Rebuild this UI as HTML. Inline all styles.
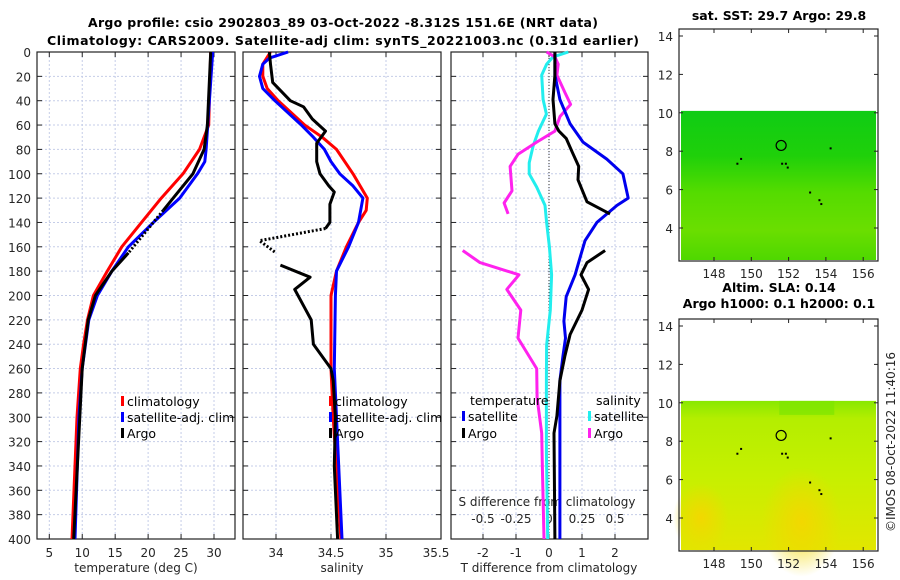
<!DOCTYPE html>
<html><head><meta charset="utf-8">
<style>
html,body{margin:0;padding:0;background:#fff;}
svg{display:block;font-family:"DejaVu Sans","Liberation Sans",sans-serif;}
.tk{font-size:12px;fill:#262626;}
.ttl{font-size:12.5px;font-weight:bold;fill:#000;}
.lg{font-size:12.5px;fill:#000;}
</style></head>
<body>
<svg id="chart" width="900" height="580" viewBox="0 0 900 580" xmlns="http://www.w3.org/2000/svg">
<defs>
<linearGradient id="sstg" x1="0" y1="0" x2="0" y2="1">
<stop offset="0" stop-color="#0fcc14"/><stop offset="0.3" stop-color="#1fd00a"/><stop offset="0.55" stop-color="#55dc00"/><stop offset="0.8" stop-color="#6ade00"/><stop offset="1" stop-color="#4fd800"/>
</linearGradient>
<linearGradient id="slag" x1="0" y1="0" x2="0" y2="1">
<stop offset="0" stop-color="#88e800"/><stop offset="0.12" stop-color="#b4ee00"/><stop offset="0.5" stop-color="#c6f000"/><stop offset="1" stop-color="#e2e600"/>
</linearGradient>
<radialGradient id="slay1"><stop offset="0" stop-color="#f2d800"/><stop offset="1" stop-color="#f2d800" stop-opacity="0"/></radialGradient>
</defs>
<g id="layer"></g>
</svg>
<script>
// ---- data ----
const depthTicks=[0,20,40,60,80,100,120,140,160,180,200,220,240,260,280,300,320,340,360,380,400];
const tempTicks=[5,10,15,20,25,30];
const salTicks=[34,34.5,35,35.5];
const salTickLabels=['34','34.5','35','35.5'];
const tdTicks=[-2,-1,0,1,2];
const sdTickLabels=['-0.5','-0.25','0','0.25','0.5'];
const sdTicks=[-0.5,-0.25,0,0.25,0.5];

const climTempDepth=[0,60,80,100,120,140,160,180,200,220,240,260,300,340,400];
const climTemp=[29.5,29.2,27.8,25.3,22,19,16,13.8,11.7,10.8,10.2,9.7,9.2,8.9,8.45];
const satTempDepth=[0,80,90,100,120,140,160,180,200,220,260,300,400];
const satTemp=[29.8,28.8,28.6,27.5,24.8,20.8,17,14.5,12.3,11,10,9.5,8.9];
const argoTempDepth=[0,60,80,100,120,130,165,180,200,220,260,400];
const argoTemp=[29.5,29,28.5,26.8,23.8,22.3,17,14.5,12,10.9,10,8.7];
const argoTempDotted=[130,165];

const climSalDepth=[0,10,20,30,40,60,70,80,100,120,130,140,160,180,200,260,300,400];
const climSal=[33.95,33.88,33.88,33.92,34.02,34.26,34.42,34.55,34.70,34.83,34.82,34.75,34.64,34.55,34.5,34.5,34.52,34.59];
const satSalDepth=[0,5,10,20,30,40,60,70,80,90,100,110,120,140,160,180,200,260,300,400];
const satSal=[34.11,33.94,33.88,33.85,33.88,33.99,34.23,34.34,34.44,34.5,34.58,34.70,34.79,34.75,34.66,34.55,34.54,34.53,34.55,34.6];
const argoSalDepth=[0,10,25,40,45,55,65,75,90,100,110,115,125,140,145,155,165,175,185,195,210,220,240,260,270,300,340,400];
const argoSal=[33.94,33.95,33.97,34.13,34.25,34.33,34.45,34.37,34.37,34.4,34.48,34.53,34.49,34.49,34.45,33.85,34.0,34.04,34.31,34.17,34.26,34.32,34.34,34.5,34.52,34.54,34.53,34.56];
const argoSalDotted=[145,168];

const satTdDepth=[0,19,39,59,74,88,100,120,126,140,155,169,183,201,221,235,250,270,299,400];
const satTd=[0.18,0.18,0.33,0.64,1.03,1.75,2.24,2.4,2.06,1.45,1.09,0.94,0.79,0.52,0.45,0.5,0.42,0.33,0.33,0.33];
const argoTdDepthA=[0,19,39,59,65,71,82,94,105,123,133];
const argoTdA=[0.18,0.18,0.12,0.18,0.3,0.52,0.7,0.9,0.88,1.15,1.85];
const argoTdDepthB=[163,173,183,195,212,232,250,270,299,313,400];
const argoTdB=[1.7,1.15,0.97,1.2,1.0,0.64,0.48,0.33,0.24,0.15,0.18];
const satSdDepth=[0,4,10,19,39,51,65,77,91,100,111,126,140,160,183,212,241,270,328,400];
const satSd=[0.146,0.03,-0.018,-0.055,-0.045,-0.02,-0.08,-0.12,-0.15,-0.15,-0.093,-0.03,-0.018,0.003,0.02,0.01,-0.018,-0.02,-0.02,-0.01];
const argoSdDepthA=[0,4,10,19,33,43,53,65,74,84,94,114,124,133];
const argoSdA=[-0.018,0.045,0.07,0.06,0.12,0.164,0.083,0.045,-0.093,-0.235,-0.295,-0.28,-0.34,-0.31];
const argoSdDepthB=[163,173,183,195,212,235,260,284,313,342,400];
const argoSdB=[-0.654,-0.523,-0.227,-0.32,-0.214,-0.235,-0.093,-0.09,-0.055,-0.05,-0.038];

const mapLatTicks=[14,12,10,8,6,4];
const mapLonTicks=[148,150,152,154,156];
const argoLon=151.6, argoLat=8.3;
const dotLon=[149.2,149.4,151.6,151.8,151.9,154.2,153.1,153.6,153.7];
const dotLat=[7.4,7.65,7.4,7.4,7.2,8.2,5.9,5.5,5.3];

// ---- scales ----
const Y0=52,Y1=539;
const yD=d=>Y0+d*(Y1-Y0)/400;
const xT=t=>49.3+(t-5)*(214-49.3)/25;
const xS=s=>276+(s-34)*110;
const xTd=t=>549+t*33;
const xSd=s=>549+s*132;
const P1=[37,235],P2=[243,441],P3=[451,648];

const NS='http://www.w3.org/2000/svg';
const layer=document.getElementById('layer');
function mk(tag,attrs,parent){const e=document.createElementNS(NS,tag);for(const k in attrs)e.setAttribute(k,attrs[k]);(parent||layer).appendChild(e);return e;}
function txt(x,y,s,cls,anchor,parent){const t=mk('text',{x:x,y:y,class:cls,'text-anchor':anchor||'start'},parent);t.textContent=s;return t;}

function panel(name,px,xticks,xfn){
  const g=mk('g',{});
  
  
  depthTicks.forEach(d=>{if(d>0&&d<400)mk('line',{x1:px[0],x2:px[1],y1:yD(d),y2:yD(d),stroke:'#c5cde8','stroke-width':1,'stroke-dasharray':'2,2'},g);});
  xticks.forEach(v=>{const x=xfn(v);if(x>px[0]+1&&x<px[1]-1)mk('line',{x1:x,x2:x,y1:Y0,y2:Y1,stroke:'#c5cde8','stroke-width':1,'stroke-dasharray':'2,2'},g);});
  mk('rect',{x:px[0],y:Y0,width:px[1]-px[0],height:Y1-Y0,fill:'none',stroke:'#222','stroke-width':1.2},g);
  depthTicks.forEach(d=>{mk('line',{x1:px[0],x2:px[0]+5,y1:yD(d),y2:yD(d),stroke:'#222'},g);mk('line',{x1:px[1]-5,x2:px[1],y1:yD(d),y2:yD(d),stroke:'#222'},g);});
  xticks.forEach(v=>{const x=xfn(v);mk('line',{x1:x,x2:x,y1:Y1-5,y2:Y1,stroke:'#222'},g);mk('line',{x1:x,x2:x,y1:Y0,y2:Y0+5,stroke:'#222'},g);});
  return g;
}
function line(name,depths,vals,xfn,color,w,dash,range){
  let pts=[];
  depths.forEach((d,i)=>{if(!range||(d>=range[0]&&d<=range[1]))pts.push(xfn(vals[i]).toFixed(1)+','+yD(d).toFixed(1));});
  const p=mk('polyline',{points:pts.join(' '),fill:'none',stroke:color,'stroke-width':w,'stroke-linejoin':'round'});
  if(dash)p.setAttribute('stroke-dasharray',dash);
  
  
  return p;
}

// titles
const t1=txt(343,27,'Argo profile: csio 2902803_89 03-Oct-2022 -8.312S 151.6E (NRT data)','ttl','middle');


t1.setAttribute('textLength','510');
const t2=txt(343,45,'Climatology: CARS2009. Satellite-adj clim: synTS_20221003.nc (0.31d earlier)','ttl','middle');


t2.setAttribute('textLength','592');

// panels
panel('temperature-panel',P1,tempTicks,xT);
panel('salinity-panel',P2,salTicks,xS);
panel('difference-panel',P3,tdTicks,xTd);

// y tick labels
depthTicks.forEach(d=>{const t=txt(31,yD(d)+5,String(d),'tk','end');

});
tempTicks.forEach(v=>{const t=txt(xT(v),557,String(v),'tk','middle');

});
salTicks.forEach((v,i)=>{const t=txt(Math.min(xS(v),436),557,salTickLabels[i],'tk','middle');

});
tdTicks.forEach(v=>{const t=txt(xTd(v),557,String(v),'tk','middle');

});
sdTicks.forEach((v,i)=>{const t=txt(xSd(v),523,sdTickLabels[i],'tk','middle');

});
let a=txt(136,572,'temperature (deg C)','tk','middle');
a=txt(342,572,'salinity','tk','middle');
a=txt(549,572,'T difference from climatology','tk','middle');
a=txt(547,506,'S difference from climatology','tk','middle');

// zero line
const z=mk('line',{x1:xTd(0),x2:xTd(0),y1:Y0,y2:Y1,stroke:'#333','stroke-width':1,'stroke-dasharray':'1,2'});



// temperature profiles
line('climatology-temperature',climTempDepth,climTemp,xT,'#ff0000',3);
line('satellite-temperature',satTempDepth,satTemp,xT,'#0000ff',3);
line('argo-temperature',argoTempDepth,argoTemp,xT,'#000',3,null,[0,argoTempDotted[0]]);
line('argo-temperature-interp',argoTempDepth,argoTemp,xT,'#000',3,'2,2',argoTempDotted);
line('argo-temperature-deep',argoTempDepth,argoTemp,xT,'#000',3,null,[argoTempDotted[1],400]);
// salinity profiles
line('climatology-salinity',climSalDepth,climSal,xS,'#ff0000',3);
line('satellite-salinity',satSalDepth,satSal,xS,'#0000ff',3);
line('argo-salinity',argoSalDepth,argoSal,xS,'#000',3,null,[0,argoSalDotted[0]]);
line('argo-salinity-interp',argoSalDepth,argoSal,xS,'#000',3,'2,2',argoSalDotted);
line('argo-salinity-deep',argoSalDepth,argoSal,xS,'#000',3,null,[170,400]);
// differences
line('satellite-s-diff',satSdDepth,satSd,xSd,'#22eeee',3);
line('argo-s-diff-upper',argoSdDepthA,argoSdA,xSd,'#ff22ee',3);
line('argo-s-diff-lower',argoSdDepthB,argoSdB,xSd,'#ff22ee',3);
line('satellite-t-diff',satTdDepth,satTd,xTd,'#0000ee',3);
line('argo-t-diff-upper',argoTdDepthA,argoTdA,xTd,'#000',3);
line('argo-t-diff-lower',argoTdDepthB,argoTdB,xTd,'#000',3);

// legends
function legend(name,x,y,color,label){
  const g=mk('g',{});
  
  
  mk('rect',{x:x,y:y-10,width:3,height:10,fill:color},g);
  txt(x+6,y,label,'lg','start',g);
}
legend('legend-climatology',121,406,'#ff0000','climatology');
legend('legend-satellite-adj-clim',121,422,'#0000ff','satellite-adj. clim');
legend('legend-argo',121,438,'#000','Argo');
legend('legend-climatology-salinity',329,406,'#ff0000','climatology');
legend('legend-satellite-adj-clim-salinity',329,422,'#0000ff','satellite-adj. clim');
legend('legend-argo-salinity',329,438,'#000','Argo');
a=txt(470,405,'temperature','lg');
a=txt(596,405,'salinity','lg');
legend('legend-t-satellite',462,421,'#0000ee','satellite');
legend('legend-t-argo',462,438,'#000','Argo');
legend('legend-s-satellite',588,421,'#22eeee','satellite');
legend('legend-s-argo',588,438,'#ff22ee','Argo');

// maps
function map(name,top,grad,title1,title2){
  const g=mk('g',{});
  
  
  const bx=[679,878], by=[top,top+232];
  const yL=l=>top+7+(14-l)*19.2;
  const xL=l=>714+(l-148)*18.65;
  mk('rect',{x:681,y:yL(10.1),width:195,height:by[1]-1-yL(10.1),fill:grad},g);
  if(name==='sla-map'){
    mk('ellipse',{cx:xL(152.7),cy:yL(3.8),rx:40,ry:55,fill:'url(#slay1)'},g);
    mk('ellipse',{cx:xL(147.3),cy:yL(4),rx:28,ry:35,fill:'url(#slay1)'},g);
    mk('rect',{x:xL(151.5),y:yL(10.1),width:55,height:14,fill:'#7ce600',opacity:0.7},g);
  }
  mk('rect',{x:bx[0],y:by[0],width:bx[1]-bx[0],height:by[1]-by[0],fill:'none',stroke:'#222','stroke-width':1.2},g);
  mapLatTicks.forEach(l=>{mk('line',{x1:bx[0],x2:bx[0]+4,y1:yL(l),y2:yL(l),stroke:'#222'},g);mk('line',{x1:bx[1]-4,x2:bx[1],y1:yL(l),y2:yL(l),stroke:'#222'},g);txt(673,yL(l)+5,String(l),'tk','end',g);});
  mapLonTicks.forEach(l=>{mk('line',{x1:xL(l),x2:xL(l),y1:by[1]-4,y2:by[1],stroke:'#222'},g);mk('line',{x1:xL(l),x2:xL(l),y1:by[0],y2:by[0]+4,stroke:'#222'},g);txt(xL(l),by[1]+17,String(l),'tk','middle',g);});
  dotLon.forEach((l,i)=>mk('rect',{x:xL(l),y:yL(dotLat[i]),width:2,height:2,fill:'#000'},g));
  mk('circle',{cx:xL(argoLon),cy:yL(argoLat),r:5,fill:'none',stroke:'#000','stroke-width':1.2},g);
  if(title2){txt(779,top-27,title1,'ttl','middle',g);txt(779,top-11,title2,'ttl','middle',g);}
  else txt(779,top-9,title1,'ttl','middle',g);
}
map('sst-map',29,'url(#sstg)','sat. SST: 29.7 Argo: 29.8');
map('sla-map',319,'url(#slag)','Altim. SLA: 0.14','Argo h1000: 0.1 h2000: 0.1');

const c=txt(0,0,'©IMOS 08-Oct-2022 11:40:16','tk','middle');
c.setAttribute('transform','translate(895,442) rotate(-90)');


</script>
</body></html>
